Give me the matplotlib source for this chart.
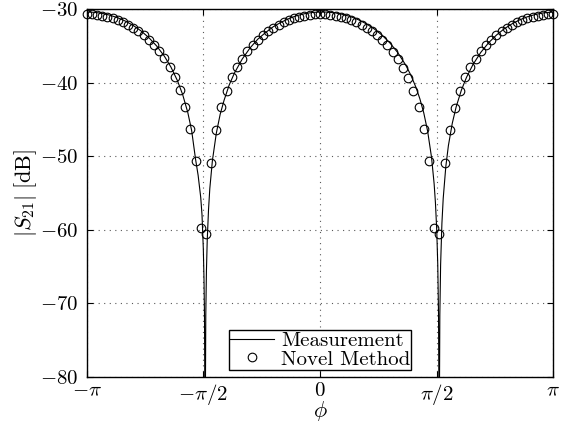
import numpy as np
import matplotlib
matplotlib.use("Agg")
import matplotlib.pyplot as plt

# Measured transmission |S21| versus rotation angle (degrees, dB)
meas_deg = [-180, -174, -168, -162, -156, -150, -144, -138, -132, -126, -120,
            -115, -110, -106, -102, -99, -96, -94, -92, -91, -90, -89.5, -89.1,
            -88.6, -88.1, -87.6, -87, -86, -85, -83, -80, -77, -74, -70, -66,
            -60, -54, -48, -42, -36, -30, -24, -18, -12, -6, 0, 6, 12, 18, 24,
            30, 36, 42, 48, 54, 60, 66, 70, 74, 77, 80, 83, 86, 88, 89, 90,
            90.8, 91.4, 91.9, 92.4, 93, 94, 95, 97, 99, 102, 105, 109, 113,
            118, 124, 130, 136, 142, 148, 154, 160, 166, 172, 180]
meas_db = [-30.40, -30.45, -30.59, -30.84, -31.19, -31.65, -32.24, -32.98,
           -33.89, -35.02, -36.42, -37.88, -39.72, -41.59, -44.04, -46.51,
           -50.40, -52.60, -55.60, -58.00, -62.60, -66.50, -71.60, -90.00,
           -71.60, -65.60, -61.50, -57.30, -54.40, -50.60, -46.90, -44.30,
           -42.40, -40.30, -38.70, -36.80, -35.30, -34.10, -33.20, -32.40,
           -31.80, -31.30, -30.90, -30.64, -30.47, -30.40, -30.42, -30.54,
           -30.75, -31.06, -31.49, -32.04, -32.73, -33.58, -34.63, -35.94,
           -37.59, -38.97, -40.65, -42.20, -44.11, -46.61, -50.16, -53.75,
           -56.32, -59.99, -64.74, -71.58, -90.00, -71.58, -64.74, -59.12,
           -55.74, -51.42, -48.56, -45.52, -43.29, -41.03, -39.27, -37.53,
           -35.89, -34.59, -33.55, -32.70, -32.02, -31.47, -31.05, -30.74,
           -30.53, -30.40]

# Novel method, evaluated every 4 degrees
novel_deg = np.arange(-180, 181, 4)
novel_db = [-30.70, -30.72, -30.79, -30.89, -31.04, -31.24, -31.49, -31.78,
            -32.13, -32.54, -33.02, -33.56, -34.19, -34.91, -35.75, -36.72,
            -37.86, -39.23, -41.00, -43.30, -46.30, -50.60, -59.70, -60.60,
            -50.90, -46.40, -43.30, -41.10, -39.30, -37.90, -36.75, -35.75,
            -34.90, -34.20, -33.55, -33.00, -32.55, -32.15, -31.80, -31.50,
            -31.25, -31.05, -30.90, -30.80, -30.72, -30.70, -30.72, -30.80,
            -30.90, -31.05, -31.25, -31.50, -31.80, -32.15, -32.55, -33.00,
            -33.55, -34.20, -34.90, -35.80, -36.80, -37.95, -39.40, -41.20,
            -43.35, -46.30, -50.60, -59.70, -60.60, -50.90, -46.40, -43.40,
            -41.10, -39.30, -37.90, -36.75, -35.75, -34.90, -34.20, -33.55,
            -33.00, -32.55, -32.15, -31.80, -31.50, -31.25, -31.05, -30.90,
            -30.80, -30.72, -30.70]

x_ticks = [-np.pi, -np.pi / 2, 0, np.pi / 2, np.pi]
x_labels = [r"$-\pi$", r"$-\pi/2$", r"$0$", r"$\pi/2$", r"$\pi$"]
y_ticks = [-80, -70, -60, -50, -40, -30]
y_labels = [r"$-80$", r"$-70$", r"$-60$", r"$-50$", r"$-40$", r"$-30$"]

plt.rcParams.update({
    "font.family": "serif",
    "font.serif": ["cmr10"],
    "mathtext.fontset": "cm",
    "font.size": 15,
})

fig = plt.figure(figsize=(5.61, 4.21), dpi=100)
ax = fig.add_axes([0.1544, 0.1045, 0.8321, 0.8741])

ax.plot(np.deg2rad(meas_deg), meas_db, color="k", lw=0.8, label="Measurement")
ax.plot(np.deg2rad(novel_deg), novel_db, ls="none", marker="o", ms=6.2,
        mfc="none", mec="k", mew=0.8, label="Novel Method", clip_on=False)

ax.set_xlim(-np.pi, np.pi)
ax.set_ylim(-80, -30)
ax.set_xticks(x_ticks)
ax.set_xticklabels(x_labels)
ax.set_yticks(y_ticks)
ax.set_yticklabels(y_labels)
ax.tick_params(direction="in", top=True, right=True, length=4, width=0.8,
               labelsize=15)
ax.tick_params(axis="x", pad=3.5)
ax.tick_params(axis="y", pad=6)
for s in ax.spines.values():
    s.set_linewidth(1.0)

ax.grid(True, color="0.35", linestyle=(0, (1, 4)), linewidth=0.8)

ax.set_xlabel(r"$\phi$", fontsize=16, labelpad=-6)
ax.set_ylabel(r"$|S_{21}|\;[\mathrm{dB}]$", fontsize=16, labelpad=1)

leg = ax.legend(loc="lower center", frameon=True, fancybox=False,
                edgecolor="k", framealpha=1, borderpad=0.05,
                labelspacing=0.0, handlelength=2.1, handletextpad=0.35,
                borderaxespad=0.35, fontsize=15)
leg.get_frame().set_linewidth(1.0)

fig.savefig("out.png", dpi=100)
